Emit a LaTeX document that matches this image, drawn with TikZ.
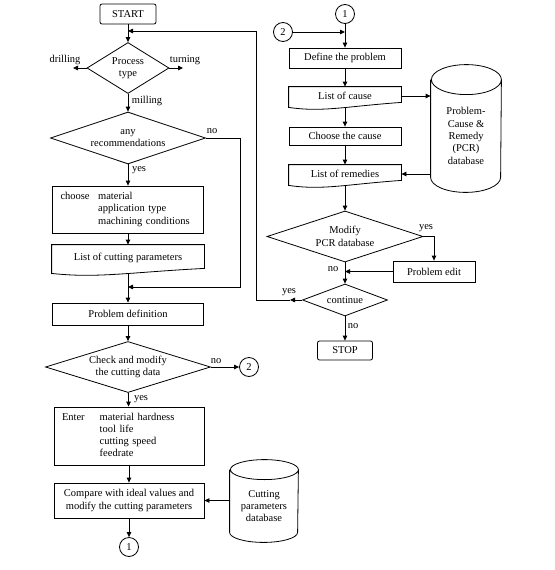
\documentclass[tikz,border=0pt]{standalone}
\usepackage{fontspec}
\setmainfont{Liberation Serif}
\usetikzlibrary{shapes.geometric,arrows.meta,calc}
\newcommand\docshape[3]{\draw (#1.north west) -- (#1.north east) -- ([yshift=3pt]#1.south east) .. controls +(-#2pt,-4pt) and +(#3pt,-5pt) .. ([yshift=-2pt]#1.south west) -- cycle;}
\newcommand\cylshape[3]{\draw (#1.north west) -- ([yshift=#3pt]#1.south west) arc[start angle=180,end angle=360,x radius=#2pt,y radius=#3pt] -- (#1.north east) arc[start angle=0,end angle=360,x radius=#2pt,y radius=#3pt];}
\begin{document}
\begin{tikzpicture}[x=1pt,y=-1pt, font=\fontsize{10.5}{12.3}\selectfont, line width=0.8pt,
 >={Triangle[length=5pt,width=4.5pt]},
 box/.style={draw, rectangle, inner sep=0pt, align=center},
 docbox/.style={rectangle, inner sep=0pt, align=center},
 rbox/.style={box, rounded corners=2pt},
 dec/.style={draw, diamond, inner sep=0pt, align=center},
 conn/.style={draw, circle, inner sep=0pt, minimum size=19pt},
 cylbox/.style={rectangle, inner sep=0pt, align=center},
 lbl/.style={inner sep=0pt}]
\useasboundingbox (0,0) rectangle (554,570);
% left column
\node[rbox, minimum width=56pt, minimum height=20pt] (start) at (128,14) {START};
\node[dec, minimum width=82pt, minimum height=51pt, aspect=1.6] (ptype) at (128,68) {Process\\type};
\coordinate (drill) at (73,68);
\coordinate (turn) at (183,68);
\node[lbl] (ldrill) at (65,60) {drilling};
\node[lbl] (lturn) at (185,60) {turning};
\node[dec, minimum width=155pt, minimum height=52pt, aspect=3] (rec) at (128,138) {any\\recommendations};
\node[lbl] (lmill) at (147,101) {milling};
\node[lbl] (lno1) at (212,131) {no};
\node[lbl] (lyes1) at (139,170) {yes};
\node[box, minimum width=151pt, minimum height=47pt, text width=135pt, align=left] (choose) at (128,209.5)
 {\begin{tabular}{@{}l@{\hspace{8.5pt}}l@{}}choose & material\\ & application type\\ & machining conditions\end{tabular}};
\node[docbox, minimum width=152pt, minimum height=26pt] (listcut) at (128,258) {List of cutting parameters};
\docshape{listcut}{76}{45}
\coordinate (r1) at (240,138);
\coordinate (j1) at (128,287);
\node[box, minimum width=151pt, minimum height=22pt] (probdef) at (128,314) {Problem definition};
\node[dec, minimum width=165pt, minimum height=51pt, aspect=3.2] (check) at (128,367) {Check and modify\\the cutting data};
\node[lbl] (lno2) at (216,361) {no};
\node[conn] (c2a) at (249,367) {2};
\node[lbl] (lyes2) at (141,399) {yes};
\node[box, minimum width=150pt, minimum height=58pt, text width=134pt, align=left] (enter) at (129,436)
 {\begin{tabular}{@{}l@{\hspace{15pt}}l@{}}Enter & material hardness\\ & tool life\\ & cutting speed\\ & feedrate\end{tabular}};
\node[box, minimum width=150pt, minimum height=35pt] (compare) at (129,500.5) {Compare with ideal values and\\modify the cutting parameters};
\node[cylbox, minimum width=68pt, minimum height=72pt] (cyl1) at (264,506) {Cutting\\parameters\\database};
\cylshape{cyl1}{34}{10}
\node[conn] (c1a) at (129,547) {1};
% right column
\node[conn] (c1b) at (345,14) {1};
\node[conn] (c2b) at (283,32) {2};
\coordinate (j2) at (345,32);
\node[box, minimum width=112pt, minimum height=20pt] (define) at (345,58) {Define the problem};
\node[docbox, minimum width=112pt, minimum height=18pt] (listcause) at (345,96) {List of cause};
\docshape{listcause}{56}{34}
\node[box, minimum width=112pt, minimum height=18pt] (choosecause) at (345,136) {Choose the cause};
\node[docbox, minimum width=112pt, minimum height=18pt] (listrem) at (345,174) {List of remedies};
\docshape{listrem}{56}{34}
\node[cylbox, minimum width=70pt, minimum height=112pt] (pcr) at (466,136) {Problem-\\Cause \&\\Remedy\\(PCR)\\database};
\cylshape{pcr}{35}{15}
\node[dec, minimum width=156pt, minimum height=51pt, aspect=3] (modify) at (345,236.5) {Modify\\PCR database};
\node[lbl] (lyes3) at (426,228) {yes};
\node[box, minimum width=82pt, minimum height=21pt] (probedit) at (434,271.5) {Problem edit};
\coordinate (j3) at (345,271.5);
\node[lbl] (lno3) at (333,269) {no};
\node[dec, minimum width=85pt, minimum height=32pt, aspect=2.6] (cont) at (345,300) {continue};
\node[lbl] (lyes4) at (289,292) {yes};
\node[lbl] (lno4) at (353,326) {no};
\node[rbox, minimum width=55pt, minimum height=19pt] (stop) at (345,350.5) {STOP};
\coordinate (c3) at (290,300);
\coordinate (c4) at (256,300);
\coordinate (c5) at (256,31);
\coordinate (j4) at (128,31);
% connectors
\draw[->] (start) -- (ptype);
\draw[->] (ptype.west) -- (drill);
\draw[->] (ptype.east) -- (turn);
\draw[->] (ptype) -- (rec);
\draw[->] (rec.east) -- (r1) |- (j1);
\draw[->] (rec) -- (choose);
\draw[->] (choose) -- (listcut);
\draw[->] ([yshift=-3pt]listcut.south) -- (probdef);
\draw[->] (probdef) -- (check);
\draw[->] (check.east) -- (c2a);
\draw[->] (check) -- (enter);
\draw[->] (enter) -- (compare);
\draw[->] (cyl1.west |- compare.east) -- (compare.east);
\draw[->] (compare) -- (c1a);
\draw[->] (c1b) -- (define);
\draw[->] (c2b) -- (j2);
\draw[->] (define) -- (listcause);
\draw[->] ([yshift=-3pt]listcause.south) -- (choosecause);
\draw[->] (choosecause) -- (listrem);
\draw[->] ([yshift=-3pt]listrem.south) -- (modify);
\draw[->] (listcause.east) -- (listcause.east -| pcr.west);
\draw[->] (pcr.west |- listrem.east) -- (listrem.east);
\draw[->] (modify.east) -| (probedit.north);
\draw[->] (probedit.west) -- (j3);
\draw[->] (modify) -- (cont);
\draw[->] (cont.west) -- (c3);
\draw[->] (c3) -- (c4) -- (c5) -- (j4);
\draw[->] (cont) -- (stop);
\end{tikzpicture}
\end{document}
